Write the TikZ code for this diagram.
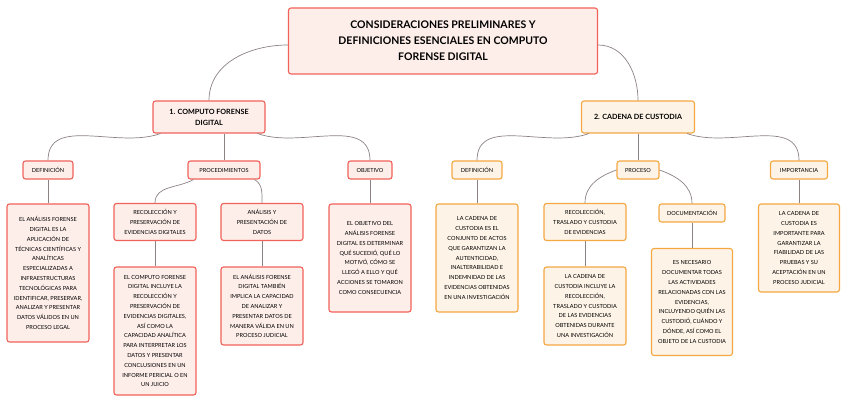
\documentclass[tikz,border=0pt]{standalone}
\usepackage{fontspec}
\setmainfont{Lato}
\begin{document}
\begin{tikzpicture}[x=1pt,y=-1pt,
  base/.style={draw,rounded corners=2.5pt,line width=1.1pt,align=center,inner sep=2pt,font=\fontsize{5.6}{9.8}\selectfont},
  red/.style={base,draw={rgb,255:red,240;green,98;blue,90},fill={rgb,255:red,253;green,238;blue,233}},
  org/.style={base,draw={rgb,255:red,245;green,167;blue,66},fill={rgb,255:red,253;green,243;blue,230}},
  lnk/.style={draw={rgb,255:red,140;green,130;blue,130},line width=0.7pt}]
\useasboundingbox (0,0) rectangle (848,403);
\node[red,minimum width=309,minimum height=66,font=\bfseries\fontsize{10.5}{16}\selectfont] (t) at (443,41) {CONSIDERACIONES PRELIMINARES Y\\DEFINICIONES ESENCIALES EN COMPUTO\\FORENSE DIGITAL};
\node[red,minimum width=112,minimum height=32,font=\bfseries\fontsize{7.2}{11}\selectfont] (c) at (209,117) {1. COMPUTO FORENSE\\DIGITAL};
\node[org,minimum width=113,minimum height=32,font=\bfseries\fontsize{7.2}{11}\selectfont] (k) at (638,117) {2. CADENA DE CUSTODIA};
% left
\node[red,minimum width=50,minimum height=18] (ld) at (48,170) {DEFINICIÓN};
\node[red,minimum width=72,minimum height=18] (lp) at (224,170) {PROCEDIMIENTOS};
\node[red,minimum width=44,minimum height=18] (lo) at (370,170) {OBJETIVO};
\node[red,minimum width=82,minimum height=138] (ldt) at (48,273) {EL ANÁLISIS FORENSE\\DIGITAL ES LA\\APLICACIÓN DE\\TÉCNICAS CIENTÍFICAS Y\\ANALÍTICAS\\ESPECIALIZADAS A\\INFRAESTRUCTURAS\\TECNOLÓGICAS PARA\\IDENTIFICAR, PRESERVAR,\\ANALIZAR Y PRESENTAR\\DATOS VÁLIDOS EN UN\\PROCESO LEGAL};
\node[red,minimum width=82,minimum height=37] (lr) at (155,222) {RECOLECCIÓN Y\\PRESERVACIÓN DE\\EVIDENCIAS DIGITALES};
\node[red,minimum width=82,minimum height=37] (la) at (262,222) {ANÁLISIS Y\\PRESENTACIÓN DE\\DATOS};
\node[red,minimum width=82,minimum height=128] (lrt) at (155,331) {EL COMPUTO FORENSE\\DIGITAL INCLUYE LA\\RECOLECCIÓN Y\\PRESERVACIÓN DE\\EVIDENCIAS DIGITALES,\\ASÍ COMO LA\\CAPACIDAD ANALÍTICA\\PARA INTERPRETAR LOS\\DATOS Y PRESENTAR\\CONCLUSIONES EN UN\\INFORME PERICIAL O EN\\UN JUICIO};
\node[red,minimum width=82,minimum height=78] (lat) at (262,306) {EL ANÁLISIS FORENSE\\DIGITAL TAMBIÉN\\IMPLICA LA CAPACIDAD\\DE ANALIZAR Y\\PRESENTAR DATOS DE\\MANERA VÁLIDA EN UN\\PROCESO JUDICIAL};
\node[red,minimum width=82,minimum height=108] (lot) at (370,258) {EL OBJETIVO DEL\\ANÁLISIS FORENSE\\DIGITAL ES DETERMINAR\\QUÉ SUCEDIÓ, QUÉ LO\\MOTIVÓ, CÓMO SE\\LLEGÓ A ELLO Y QUÉ\\ACCIONES SE TOMARON\\COMO CONSECUENCIA};
% right
\node[org,minimum width=50,minimum height=18] (rd) at (477,170) {DEFINICIÓN};
\node[org,minimum width=42,minimum height=18] (rp) at (638,170) {PROCESO};
\node[org,minimum width=57,minimum height=18] (ri) at (799,170) {IMPORTANCIA};
\node[org,minimum width=82,minimum height=108] (rdt) at (477,258) {LA CADENA DE\\CUSTODIA ES EL\\CONJUNTO DE ACTOS\\QUE GARANTIZAN LA\\AUTENTICIDAD,\\INALTERABILIDAD E\\INDEMNIDAD DE LAS\\EVIDENCIAS OBTENIDAS\\EN UNA INVESTIGACIÓN};
\node[org,minimum width=82,minimum height=37] (rr) at (585,222) {RECOLECCIÓN,\\TRASLADO Y CUSTODIA\\DE EVIDENCIAS};
\node[org,minimum width=66,minimum height=18] (rc) at (692,213) {DOCUMENTACIÓN};
\node[org,minimum width=82,minimum height=78] (rrt) at (585,306) {LA CADENA DE\\CUSTODIA INCLUYE LA\\RECOLECCIÓN,\\TRASLADO Y CUSTODIA\\DE LAS EVIDENCIAS\\OBTENIDAS DURANTE\\UNA INVESTIGACIÓN};
\node[org,minimum width=81,minimum height=107] (rct) at (692,302) {ES NECESARIO\\DOCUMENTAR TODAS\\LAS ACTIVIDADES\\RELACIONADAS CON LAS\\EVIDENCIAS,\\INCLUYENDO QUIÉN LAS\\CUSTODIÓ, CUÁNDO Y\\DÓNDE, ASÍ COMO EL\\OBJETO DE LA CUSTODIA};
\node[org,minimum width=81,minimum height=88] (rit) at (799,248) {LA CADENA DE\\CUSTODIA ES\\IMPORTANTE PARA\\GARANTIZAR LA\\FIABILIDAD DE LAS\\PRUEBAS Y SU\\ACEPTACIÓN EN UN\\PROCESO JUDICIAL};
% links
\begin{scope}[on background layer/.style={}]
\draw[lnk] (t.west) ++(0,4) to[out=180,in=90] (c.north);
\draw[lnk] (t.east) ++(0,4) to[out=0,in=90] (k.north);
\draw[lnk] (c.south west) ++(8,0) to[out=200,in=90] (ld.north);
\draw[lnk] (c.south) ++(15,0) -- (lp.north);
\draw[lnk] (c.south east) ++(-8,0) to[out=-20,in=90] (lo.north);
\draw[lnk] (k.south west) ++(8,0) to[out=200,in=90] (rd.north);
\draw[lnk] (k.south) -- (rp.north);
\draw[lnk] (k.south east) ++(-8,0) to[out=-20,in=90] (ri.north);
\draw[lnk] (lp.south west) ++(6,0) to[out=210,in=90] (lr.north);
\draw[lnk] (lp.south east) ++(-6,0) to[out=-30,in=90] (la.north);
\draw[lnk] (rp.west) to[out=200,in=90] (rr.north);
\draw[lnk] (rp.east) to[out=-20,in=90] (rc.north);
\draw[lnk] (ld) -- (ldt); \draw[lnk] (lo) -- (lot);
\draw[lnk] (lr) -- (lrt); \draw[lnk] (la) -- (lat);
\draw[lnk] (rd) -- (rdt); \draw[lnk] (ri) -- (rit);
\draw[lnk] (rr) -- (rrt); \draw[lnk] (rc) -- (rct);
\end{scope}
\end{tikzpicture}
\end{document}
